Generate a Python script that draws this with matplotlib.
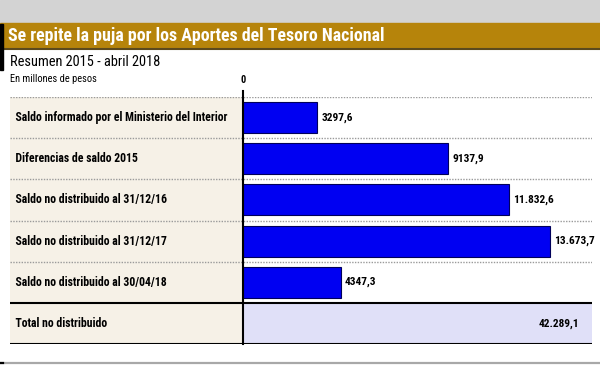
import numpy as np
import matplotlib
matplotlib.use("Agg")
import matplotlib.pyplot as plt
from matplotlib import font_manager
from matplotlib.patches import Rectangle
from matplotlib.lines import Line2D

# data (millones de pesos)
labels = [
    "Saldo informado por el Ministerio del Interior",
    "Diferencias de saldo 2015",
    "Saldo no distribuido al 31/12/16",
    "Saldo no distribuido al 31/12/17",
    "Saldo no distribuido al 30/04/18",
]
values = [3297.6, 9137.9, 11832.6, 13673.7, 4347.3]
total_label = "Total no distribuido"
total = sum(values)

title = "Se repite la puja por los Aportes del Tesoro Nacional"
subtitle = "Resumen 2015 - abril 2018"
unit = "En millones de pesos"

# condensed face if there is one
names = {f.name for f in font_manager.fontManager.ttflist}
family = "Roboto Condensed" if "Roboto Condensed" in names else "DejaVu Sans"
plt.rcParams["font.family"] = [family, "DejaVu Sans"]


def fmt(v):
    s = f"{v:.1f}"
    ent, dec = s.split(".")
    if len(ent) > 4:
        ent = f"{int(ent):,}".replace(",", ".")
    return ent + "," + dec


W, H = 600, 365
fig = plt.figure(figsize=(6, 3.65), dpi=100)
fig.patch.set_facecolor("white")

def fx(px):
    return px / W

def fy(py):
    return 1 - py / H

# header bands
fig.patches.append(Rectangle((0, fy(22)), 1, 22 / H, transform=fig.transFigure,
                             color="#D3D3D3", zorder=0))
fig.patches.append(Rectangle((0, fy(48)), 1, 25 / H, transform=fig.transFigure,
                             color="#B6840B", zorder=1))
fig.add_artist(Line2D([0, 1], [fy(48.5), fy(48.5)], color="#5C4A1E", lw=1.5))
fig.patches.append(Rectangle((0, fy(70)), 3 / W, 46 / H, transform=fig.transFigure,
                             color="black", zorder=2))
fig.text(fx(8), fy(36), title, color="white", fontsize=12.9, fontweight="bold",
         va="center", ha="left")
fig.text(fx(10), fy(62), subtitle, color="black", fontsize=10.4, va="center")
fig.text(fx(10), fy(79), unit, color="black", fontsize=7.5, va="center")

# bottom rule
fig.add_artist(Line2D([0, 1], [fy(362.5), fy(362.5)], color="#A8A8A8", lw=1.6))
fig.add_artist(Line2D([0, fx(3)], [fy(362.5), fy(362.5)], color="black", lw=1.6))

# chart axes: x pixel 10..592, zero at 243
scale = 0.02245  # px per unit
left_px, zero_px, right_px = 10, 243, 592
ax = fig.add_axes([fx(left_px), fy(344), fx(right_px - left_px), (344 - 97) / H])
xmin = -(zero_px - left_px) / scale
xmax = (right_px - zero_px) / scale
n = len(values) + 1
ax.set_xlim(xmin, xmax)
ax.set_ylim(n - 0.5, -0.5)
ax.axis("off")

ax.axvspan(xmin, 0, color="#F6F1E7", zorder=0)
zero_frac = -xmin / (xmax - xmin)
ax.axhspan(n - 1.5, n - 0.5, xmin=zero_frac, color="#E0E0F8", zorder=0)

y = np.arange(len(values))
ax.barh(y, values, height=0.75, color="#0000F2", edgecolor="#00005A",
        linewidth=0.8, zorder=3)

for b in np.arange(-0.5, len(values) - 1, 1.0):
    ax.axhline(b, color="#9A9A9A", lw=1.0, ls=(0, (1, 1)), zorder=2)
ax.axhline(n - 1.5, color="black", lw=1.5, zorder=4)
ax.axhline(n - 0.5, color="black", lw=1.5, zorder=4)
ax.plot([0, 0], [-0.65, n - 0.5], color="black", lw=1.5, zorder=5, clip_on=False)
ax.text(0, -0.78, "0", ha="center", va="bottom", fontsize=7.5, fontweight="bold")

for yi, lab, v in zip(y, labels, values):
    ax.text(xmin, yi, "  " + lab, ha="left", va="center", fontsize=8.5,
            fontweight="bold", zorder=6)
    ax.annotate(fmt(v), (v, yi), xytext=(3, 0), textcoords="offset points",
                ha="left", va="center", fontsize=8.2, fontweight="bold")

ax.text(xmin, n - 1, "  " + total_label, ha="left", va="center", fontsize=8.5,
        fontweight="bold")
ax.annotate(fmt(total), (xmax, n - 1), xytext=(-9, 0), textcoords="offset points",
            ha="right", va="center", fontsize=8.2, fontweight="bold")

fig.savefig("out.png", dpi=100)
